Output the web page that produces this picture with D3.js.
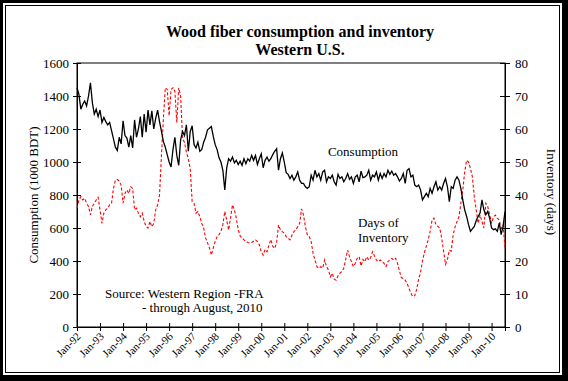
<!DOCTYPE html>
<html><head><meta charset="utf-8">
<script src="https://cdn.jsdelivr.net/npm/d3@7"></script>
<style>html,body{margin:0;padding:0;background:#fff;} svg{display:block;font-family:"Liberation Serif","Times New Roman",serif;}</style>
</head><body><svg id="c" width="568" height="381"></svg>
<script>
// Monthly consumption (1000 BDT), Jan-1992 .. Aug-2010
const consumption = [
1450,1410,1320,1350,1370,1340,1400,1480,1360,1290,1320,1275,
1315,1240,1270,1245,1225,1240,1190,1140,1090,1070,1150,1110,
1250,1160,1145,1090,1160,1085,1255,1150,1200,1275,1150,1290,
1180,1315,1225,1310,1200,1265,1315,1245,1185,1125,1090,1045,
1000,970,1075,1150,1040,980,1135,1185,1160,1225,1065,1185,
1220,1105,1085,1120,1065,1075,1120,1150,1195,1205,1215,1155,
1105,1075,1025,1000,950,830,965,1020,1005,1030,995,1010,
985,1005,980,1020,990,1020,1005,1040,1010,1040,985,1020,
1050,965,1010,1030,1005,1020,1045,1065,1080,950,1020,1055,
1000,935,925,900,920,890,910,940,890,870,870,850,
840,850,920,890,950,910,930,890,940,950,880,910,
900,920,880,860,925,900,910,880,900,930,895,910,
870,910,920,880,945,905,910,920,950,890,920,910,
940,890,930,900,930,910,950,925,945,920,930,910,
885,900,930,870,950,960,910,920,860,850,860,830,
770,790,810,790,840,810,850,880,830,850,830,870,
900,850,760,850,840,890,910,890,840,770,710,670,
620,580,595,610,645,670,690,770,710,680,700,660,
600,590,595,580,630,560,610,700
];
// Monthly days of inventory
const inventory = [
36,38.5,39.5,38.5,39,37.5,36.5,34,36.5,37.5,38.5,39.3,
35.5,31.4,34.5,35.5,36,37,37.5,42,44.5,44.7,44.2,43,
37.5,40.5,41.5,40.5,42.5,42,35.5,36,34.5,33.4,34.5,32,
30.5,30,32,30.4,31.4,35.5,37,40,52,63,72.5,72,
64,72,72.5,71.5,62,72.5,70,57,56,53,51,48,
38,37.5,34.5,35,33.4,31.4,30,27,25.5,24,21.8,24,
25.9,27.4,28,29,31,35,32.4,29.4,33,37,35.5,33,
29.5,27.6,27,26.4,25.9,25.6,25.4,25.6,26,26.4,25.9,24.9,
22.8,21.8,23.5,22.8,24.8,26.5,24.5,23.8,25.5,30.9,29.4,28.9,
28.4,27.4,26.9,26.4,27.8,28.9,29.4,30.4,31.4,35.8,34,30.4,
28,27.4,25.9,22.3,20.3,18.3,17.8,18.3,17.8,20.3,18.3,17.3,
15.2,16.3,14.5,14.2,15.5,16.3,16.8,17.8,20.5,23.3,21.3,19.8,
18.3,19.3,20.8,21.3,18.5,20.5,19.8,21.3,20.3,21,22.8,21.5,
20.3,19.8,20.3,19.8,19.3,18.3,19.8,20.3,20.8,20.3,20.8,19.3,
17,15,14.7,14.2,13.2,11.7,10.2,9.2,9.5,11.5,14.5,16.5,
20,22.5,24.5,26.5,29,32.4,33,31,30.5,30,27,23,
19,20.5,23.3,23,28,30.4,31.9,33.4,37.5,41.5,47,50.5,
50,48,45.5,39.5,35.5,31.4,34,32,30,37.5,36.5,34,
31.4,33.4,33.9,33,32.4,29.9,30.9,24
];
const yearLabels = ["Jan-92","Jan-93","Jan-94","Jan-95","Jan-96","Jan-97","Jan-98","Jan-99","Jan-00","Jan-01","Jan-02","Jan-03","Jan-04","Jan-05","Jan-06","Jan-07","Jan-08","Jan-09","Jan-10"];
const leftTicks = [0,200,400,600,800,1000,1200,1400,1600];
const rightTicks = [0,10,20,30,40,50,60,70,80];
const titleLines = ["Wood fiber consumption and inventory","Western U.S."];
const sourceLines = ["Source: Western Region -FRA","- through August, 2010"];

const L=77, R=505, T=63, B=327;
const svg = d3.select("#c");

// chart border (double frame)
svg.append("rect").attr("x",0).attr("y",0).attr("width",568).attr("height",381).attr("fill","#000");
svg.append("rect").attr("x",3).attr("y",3).attr("width",559).attr("height",372).attr("fill","#fff");
svg.append("rect").attr("x",5.5).attr("y",5.5).attr("width",554).attr("height",367).attr("fill","none").attr("stroke","#000").attr("stroke-width",1);

const x = d3.scaleLinear().domain([0, consumption.length-1]).range([L, R]);
const yL = d3.scaleLinear().domain([0,1600]).range([B,T]);
const yR = d3.scaleLinear().domain([0,80]).range([B,T]);

// plot frame
svg.append("rect").attr("x",L).attr("y",T).attr("width",R-L).attr("height",B-T).attr("fill","none").attr("stroke","#000").attr("stroke-width",1);

// left axis
const gl = svg.append("g").attr("transform",`translate(${L},0)`)
  .call(d3.axisLeft(yL).tickValues(leftTicks).tickFormat(d3.format("d")).tickSize(4).tickPadding(4));
gl.selectAll(".tick line").attr("x1",4);
// right axis
const gr = svg.append("g").attr("transform",`translate(${R},0)`)
  .call(d3.axisRight(yR).tickValues(rightTicks).tickFormat(d3.format("d")).tickSize(5).tickPadding(5));
gr.selectAll(".tick line").attr("x1",-5);
// bottom axis
const monthTicks = yearLabels.map((d,i)=>i*12);
const gb = svg.append("g").attr("transform",`translate(0,${B})`)
  .call(d3.axisBottom(x).tickValues(monthTicks).tickFormat((d,i)=>yearLabels[i]).tickSize(4));
gb.selectAll(".tick line").attr("y1",-4);
gb.selectAll(".tick text").attr("text-anchor","end").attr("y",0).attr("dy",0)
  .attr("transform","translate(4,10) rotate(-45)");

[gl,gr,gb].forEach(g=>{
  g.select(".domain").attr("stroke","#000");
  g.selectAll(".tick line").attr("stroke","#000");
  g.selectAll(".tick text").attr("fill","#000").style("font-family","'Liberation Serif',serif");
});
gl.selectAll(".tick text").style("font-size","13px");
gr.selectAll(".tick text").style("font-size","13px");
gb.selectAll(".tick text").style("font-size","11px");

// lines
const idx = d3.range(consumption.length);
svg.append("path").datum(idx)
  .attr("fill","none").attr("stroke","#ff0000").attr("stroke-width",1.1).attr("stroke-dasharray","3,2")
  .attr("d", d3.line().x(i=>x(i)).y(i=>yR(inventory[i])));
svg.append("path").datum(idx)
  .attr("fill","none").attr("stroke","#000").attr("stroke-width",1.3)
  .attr("d", d3.line().x(i=>x(i)).y(i=>yL(consumption[i])));

// titles
svg.selectAll(".title").data(titleLines).enter().append("text")
  .attr("x",300).attr("y",(d,i)=>37+i*18).attr("text-anchor","middle")
  .style("font-size","16px").style("font-weight","bold").text(d=>d);

svg.append("text").attr("transform","translate(38,195) rotate(-90)").attr("text-anchor","middle")
  .style("font-size","13px").text("Consumption (1000 BDT)");
svg.append("text").attr("transform","translate(547,192) rotate(90)").attr("text-anchor","middle")
  .style("font-size","13px").text("Inventory (days)");

// annotations
svg.append("text").attr("x",363).attr("y",156).attr("text-anchor","middle").style("font-size","13px").text("Consumption");
svg.append("text").attr("x",358).attr("y",227).style("font-size","13px").text("Days of");
svg.append("text").attr("x",358).attr("y",242).style("font-size","13px").text("Inventory");
svg.selectAll(".src").data(sourceLines).enter().append("text")
  .attr("x",(d,i)=> i===0?105:142).attr("y",(d,i)=>298+i*14)
  .style("font-size","13px").text(d=>d);
</script></body></html>
